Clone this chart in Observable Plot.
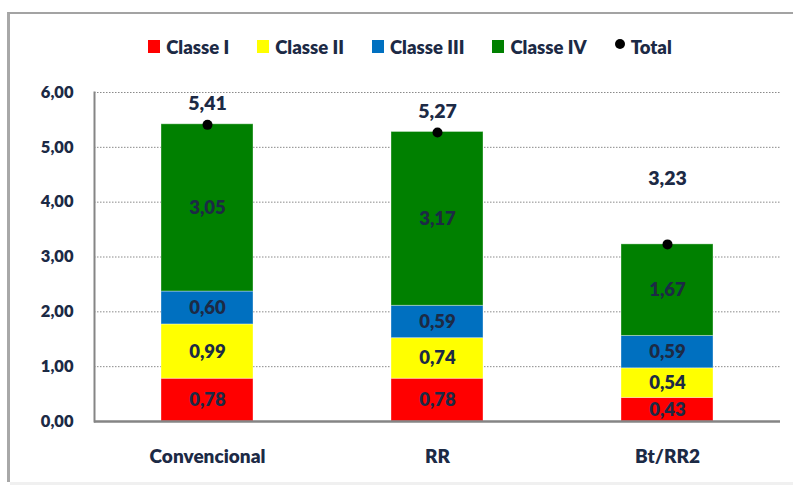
<!DOCTYPE html>
<html>
<head>
<meta charset="utf-8">
<script src="https://cdn.jsdelivr.net/npm/d3@7"></script>
<script src="https://cdn.jsdelivr.net/npm/@observablehq/plot@0.6"></script>
<style>
  html, body { margin: 0; padding: 0; background: #fff; }
  #wrap { position: relative; width: 793px; height: 485px; overflow: hidden; font-family: Lato, "Open Sans", sans-serif; }
  #frame { position: absolute; left: 7px; top: 12px; width: 820px; height: 470px;
           border-top: 2px solid #a3a3a3; border-left: 3px solid #a8a8a8; box-sizing: border-box; }
  #bottomline { position: absolute; left: 10px; top: 482px; width: 790px; height: 3px; background: #f0f0f0; }
  #legend { position: absolute; left: 0; top: 0; width: 793px; height: 80px; display: flex;
            justify-content: center; align-items: center; padding-left: 27px; padding-top: 13px; box-sizing: border-box;
            font-weight: 800; font-size: 18.5px; color: #1c2a45; }
  .item { display: flex; align-items: center; margin: 0 14px; }
  .sw { width: 12px; height: 13px; margin-right: 6px; }
  .dot { width: 10px; height: 10px; border-radius: 50%; background: #000; margin-right: 6px; margin-top: -5px; }
  #chart { position: absolute; left: 0; top: 80px; }
</style>
</head>
<body>
<div id="wrap">
  <div id="frame"></div>
  <div id="bottomline"></div>
  <div id="legend"></div>
  <div id="chart"></div>
</div>
<script>
const categories = ["Convencional", "RR", "Bt/RR2"];
const classes = ["Classe I", "Classe II", "Classe III", "Classe IV"];
const classeI = [0.78, 0.78, 0.43];
const classeII = [0.99, 0.74, 0.54];
const classeIII = [0.60, 0.59, 0.59];
const classeIV = [3.05, 3.17, 1.67];
const totals = [5.41, 5.27, 3.23];
const yTicks = [0, 1, 2, 3, 4, 5, 6];
const colors = ["#ff0000", "#ffff00", "#0070c0", "#008000"];

const series = [classeI, classeII, classeIII, classeIV];
const rows = [];
categories.forEach((c, i) => {
  classes.forEach((k, j) => rows.push({cat: c, classe: k, value: series[j][i]}));
});
const totalRows = categories.map((c, i) => ({cat: c, total: totals[i]}));
const fmt = d => d.toFixed(2).replace(".", ",");
const textColor = "#1c2a45";
const W = 800;

// legend
const legend = document.getElementById("legend");
classes.forEach((k, j) => {
  const it = document.createElement("div");
  it.className = "item";
  it.innerHTML = `<div class="sw" style="background:${colors[j]}"></div><span>${k}</span>`;
  legend.appendChild(it);
});
const tot = document.createElement("div");
tot.className = "item";
tot.innerHTML = `<div class="dot"></div><span>Total</span>`;
legend.appendChild(tot);

const chart = Plot.plot({
  width: 793,
  height: 405,
  marginTop: 12,
  marginBottom: 64,
  marginLeft: 94,
  marginRight: 13,
  style: {fontFamily: "Lato, 'Open Sans', sans-serif", fontWeight: W, color: textColor, background: "transparent"},
  x: {domain: categories, paddingInner: 0.6, paddingOuter: 0.29, label: null},
  y: {domain: [0, 6], label: null},
  color: {domain: classes, range: colors},
  marks: [
    Plot.ruleY(yTicks.filter(d => d > 0), {stroke: "#8a8a8a", strokeDasharray: "1.5,1.5", strokeWidth: 1}),
    Plot.barY(rows, Plot.stackY({x: "cat", y: "value", fill: "classe", z: "classe", order: classes, stroke: "#ffffff", strokeOpacity: 0.35, strokeWidth: 1})),
    Plot.text(rows, Plot.stackY({x: "cat", y: "value", z: "classe", order: classes, text: d => fmt(d.value), fontSize: 18.5, fontWeight: W, fill: textColor})),
    Plot.frame({anchor: "left", stroke: "#858585", strokeWidth: 2}),
    Plot.ruleY([0], {stroke: "#858585", strokeWidth: 2.5}),
    Plot.dot(totalRows, {x: "cat", y: "total", r: 5, fill: "#000"}),
    Plot.text(totalRows.filter(d => d.cat !== "Bt/RR2"), {x: "cat", y: "total", text: d => fmt(d.total), dy: -21, fontSize: 19.5, fontWeight: W, fill: textColor}),
    Plot.text(totalRows.filter(d => d.cat === "Bt/RR2"), {x: "cat", y: "total", text: d => fmt(d.total), dy: -66, fontSize: 19.5, fontWeight: W, fill: textColor}),
    Plot.axisY({ticks: yTicks, tickSize: 0, tickPadding: 21, tickFormat: fmt, fontSize: 16.5, fontWeight: W, fill: textColor}),
    Plot.axisX({tickSize: 0, tickPadding: 28, fontSize: 19, fontWeight: W, fill: textColor})
  ]
});
document.getElementById("chart").appendChild(chart);
</script>
</body>
</html>
